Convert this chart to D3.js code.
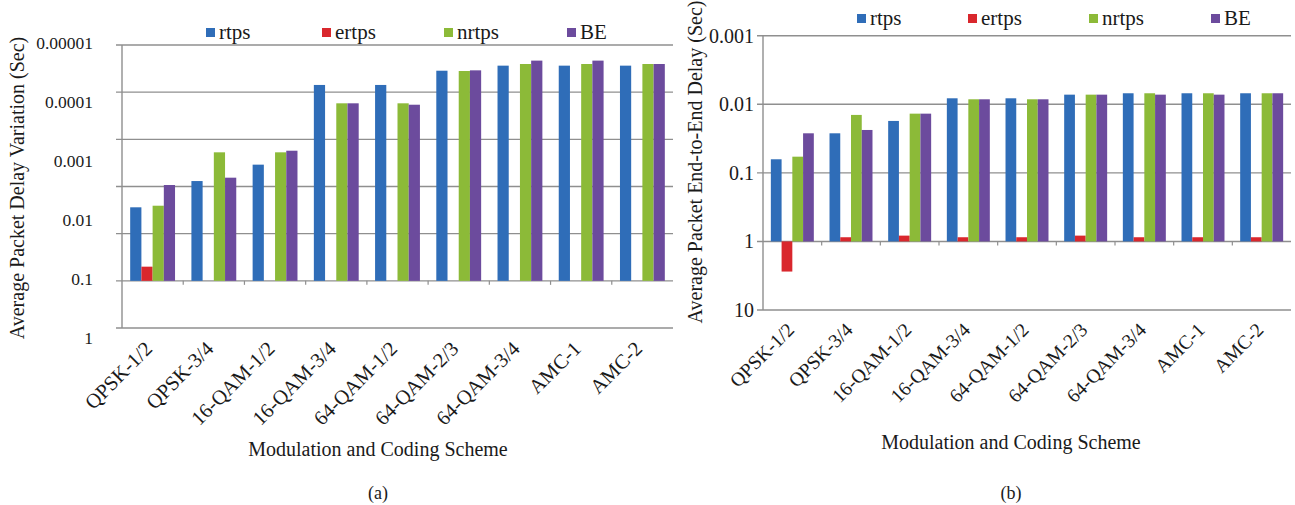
<!DOCTYPE html>
<html>
<head>
<meta charset="utf-8">
<script src="https://cdn.jsdelivr.net/npm/d3@7/dist/d3.min.js"></script>
<style>
  html, body { margin: 0; padding: 0; background: #fff; }
  svg { display: block; }
  text { font-family: "Liberation Serif", "Times New Roman", serif; fill: #1a1a1a; }
</style>
</head>
<body>
<svg id="chart" width="1295" height="505"></svg>
<script>
// Modulation and coding schemes (shared category axis)
const categories = ["QPSK-1/2", "QPSK-3/4", "16-QAM-1/2", "16-QAM-3/4", "64-QAM-1/2",
                    "64-QAM-2/3", "64-QAM-3/4", "AMC-1", "AMC-2"];
const seriesNames = ["rtps", "ertps", "nrtps", "BE"];
const seriesColors = ["#2f6db8", "#d9272d", "#8cba38", "#6c4b9d"];

// (a) Average packet delay variation, seconds (null = no bar)
const jitterRtps  = [0.00566, 0.00203, 0.00107, 4.76e-5, 4.76e-5, 2.73e-5, 2.24e-5, 2.24e-5, 2.24e-5];
const jitterErtps = [0.0575, null, null, null, null, null, null, null, null];
const jitterNrtps = [0.00532, 0.000661, 0.000661, 9.75e-5, 9.75e-5, 2.76e-5, 2.10e-5, 2.10e-5, 2.10e-5];
const jitterBE    = [0.00237, 0.00178, 0.000621, 9.75e-5, 1.03e-4, 2.69e-5, 1.84e-5, 1.84e-5, 2.10e-5];

// (b) Average packet end-to-end delay, seconds
const delayRtps  = [0.0634, 0.0265, 0.0175, 0.00818, 0.00818, 0.00724, 0.00691, 0.00691, 0.00691];
const delayErtps = [2.75, 0.869, 0.823, 0.869, 0.869, 0.823, 0.869, 0.869, 0.869];
const delayNrtps = [0.0581, 0.0143, 0.0137, 0.00846, 0.00846, 0.00724, 0.00691, 0.00691, 0.00691];
const delayBE    = [0.0265, 0.0237, 0.0137, 0.00846, 0.00846, 0.00724, 0.00724, 0.00724, 0.00691];

// Axis tick labels
const jitterTicks = ["0.00001", "0.0001", "0.001", "0.01", "0.1", "1"];
const delayTicks  = ["0.001", "0.01", "0.1", "1", "10"];

const svg = d3.select("#chart");

function drawPanel(o) {
  const g = svg.append("g");
  const x0 = d3.scaleBand().domain(categories).range([o.left, o.right]).padding(0);
  const x1 = d3.scaleBand().domain(seriesNames).range([0, x0.bandwidth()])
               .paddingInner(0).paddingOuter(0.73);
  const y = d3.scaleLog().domain(o.yDomain).range(o.yRange);
  const color = d3.scaleOrdinal().domain(seriesNames).range(seriesColors);

  // horizontal gridlines (with short tick stubs left of the axis)
  g.append("g").selectAll("line").data(o.gridValues).join("line")
    .attr("x1", o.left - 6).attr("x2", o.right)
    .attr("y1", d => y(d)).attr("y2", d => y(d))
    .attr("stroke", "#8f8f8f").attr("stroke-width", 1.4);

  // vertical value axis line
  g.append("line")
    .attr("x1", o.left).attr("x2", o.left)
    .attr("y1", y(o.gridValues[0])).attr("y2", y(o.gridValues[o.gridValues.length - 1]))
    .attr("stroke", "#8f8f8f").attr("stroke-width", 1.4);

  // value axis labels
  const yAxis = d3.axisLeft(y).tickValues(o.tickLabels.map(Number))
    .tickFormat((d, i) => o.tickLabels[i]).tickSize(0).tickPadding(o.tickPad);
  const ya = g.append("g").attr("transform", `translate(${o.left},0)`).call(yAxis);
  ya.select(".domain").remove();
  ya.selectAll("text").attr("font-size", o.yTickFont)
    .attr("font-family", "Liberation Serif").attr("fill", "#1a1a1a").attr("dy", o.yTickDy);

  // category boundary ticks on the crossing baseline
  const yb = y(o.baseline);
  g.append("g").selectAll("line").data(categories.slice(1)).join("line")
    .attr("x1", d => x0(d)).attr("x2", d => x0(d))
    .attr("y1", yb).attr("y2", yb + 4)
    .attr("stroke", "#8f8f8f").attr("stroke-width", 1.2);

  // bars grow from the baseline value
  const rows = [];
  categories.forEach((c, i) => {
    seriesNames.forEach((s, j) => {
      const v = o.series[j][i];
      if (v != null) rows.push({ c, s, v });
    });
  });
  g.append("g").selectAll("rect").data(rows).join("rect")
    .attr("x", d => x0(d.c) + x1(d.s))
    .attr("width", x1.bandwidth())
    .attr("y", d => Math.min(y(d.v), yb))
    .attr("height", d => Math.abs(y(d.v) - yb))
    .attr("fill", d => color(d.s));

  // category labels, rotated
  const xAxis = d3.axisBottom(x0).tickSize(0);
  const xa = g.append("g").attr("transform", `translate(0,${o.bottom})`).call(xAxis);
  xa.select(".domain").remove();
  xa.selectAll("text")
    .attr("font-size", o.xTickFont).attr("font-family", "Liberation Serif").attr("fill", "#1a1a1a")
    .attr("x", 0).attr("y", 0).attr("dy", 0)
    .attr("text-anchor", "end")
    .attr("transform", `translate(${o.xLabelDx},${o.xLabelDy}) rotate(-45)`);

  // legend
  const lg = g.append("g").selectAll("g").data(seriesNames).join("g")
    .attr("transform", (d, i) => `translate(${o.legendX[i]},${o.legendY})`);
  lg.append("rect").attr("x", 0).attr("y", -4).attr("width", 9).attr("height", 9)
    .attr("fill", d => color(d));
  lg.append("text").attr("x", 13).attr("y", 0).attr("dy", "0.32em")
    .attr("font-size", o.legendFont).text(d => d);

  // axis titles
  g.append("text")
    .attr("transform", `translate(${o.yTitleX},${o.yTitleY}) rotate(-90)`)
    .attr("text-anchor", "middle").attr("font-size", o.titleFont).text(o.yTitle);
  g.append("text").attr("x", o.xTitleX).attr("y", o.xTitleY)
    .attr("text-anchor", "middle").attr("font-size", o.titleFont).text("Modulation and Coding Scheme");
  g.append("text").attr("x", o.xTitleX).attr("y", 499)
    .attr("text-anchor", "middle").attr("font-size", 18).text(o.caption);
}

drawPanel({
  left: 122, right: 673, bottom: 328,
  yDomain: [1e-5, 1], yRange: [45, 45 + 5 * 58.96],
  gridValues: d3.range(7).map(k => Math.pow(10, -5 + 0.8 * k)),
  baseline: 0.1,
  tickLabels: jitterTicks, tickPad: 29, yTickFont: 17.5, yTickDy: "0.2em",
  series: [jitterRtps, jitterErtps, jitterNrtps, jitterBE],
  xTickFont: 20.5, xLabelDx: 1, xLabelDy: 22,
  legendX: [206, 322, 444, 567], legendY: 32, legendFont: 21,
  yTitle: "Average Packet Delay Variation (Sec)", yTitleX: 24, yTitleY: 188,
  xTitleX: 378, xTitleY: 456, titleFont: 20, caption: "(a)"
});

drawPanel({
  left: 763, right: 1291, bottom: 310,
  yDomain: [0.001, 10], yRange: [35.7, 310],
  gridValues: [0.001, 0.01, 0.1, 1, 10],
  baseline: 1,
  tickLabels: delayTicks, tickPad: 9, yTickFont: 20, yTickDy: "0.32em",
  series: [delayRtps, delayErtps, delayNrtps, delayBE],
  xTickFont: 19.5, xLabelDx: 3, xLabelDy: 21,
  legendX: [857, 968, 1089, 1211], legendY: 18, legendFont: 21,
  yTitle: "Average Packet End-to-End Delay (Sec)", yTitleX: 702, yTitleY: 162,
  xTitleX: 1011, xTitleY: 449, titleFont: 20, caption: "(b)"
});
</script>
</body>
</html>
